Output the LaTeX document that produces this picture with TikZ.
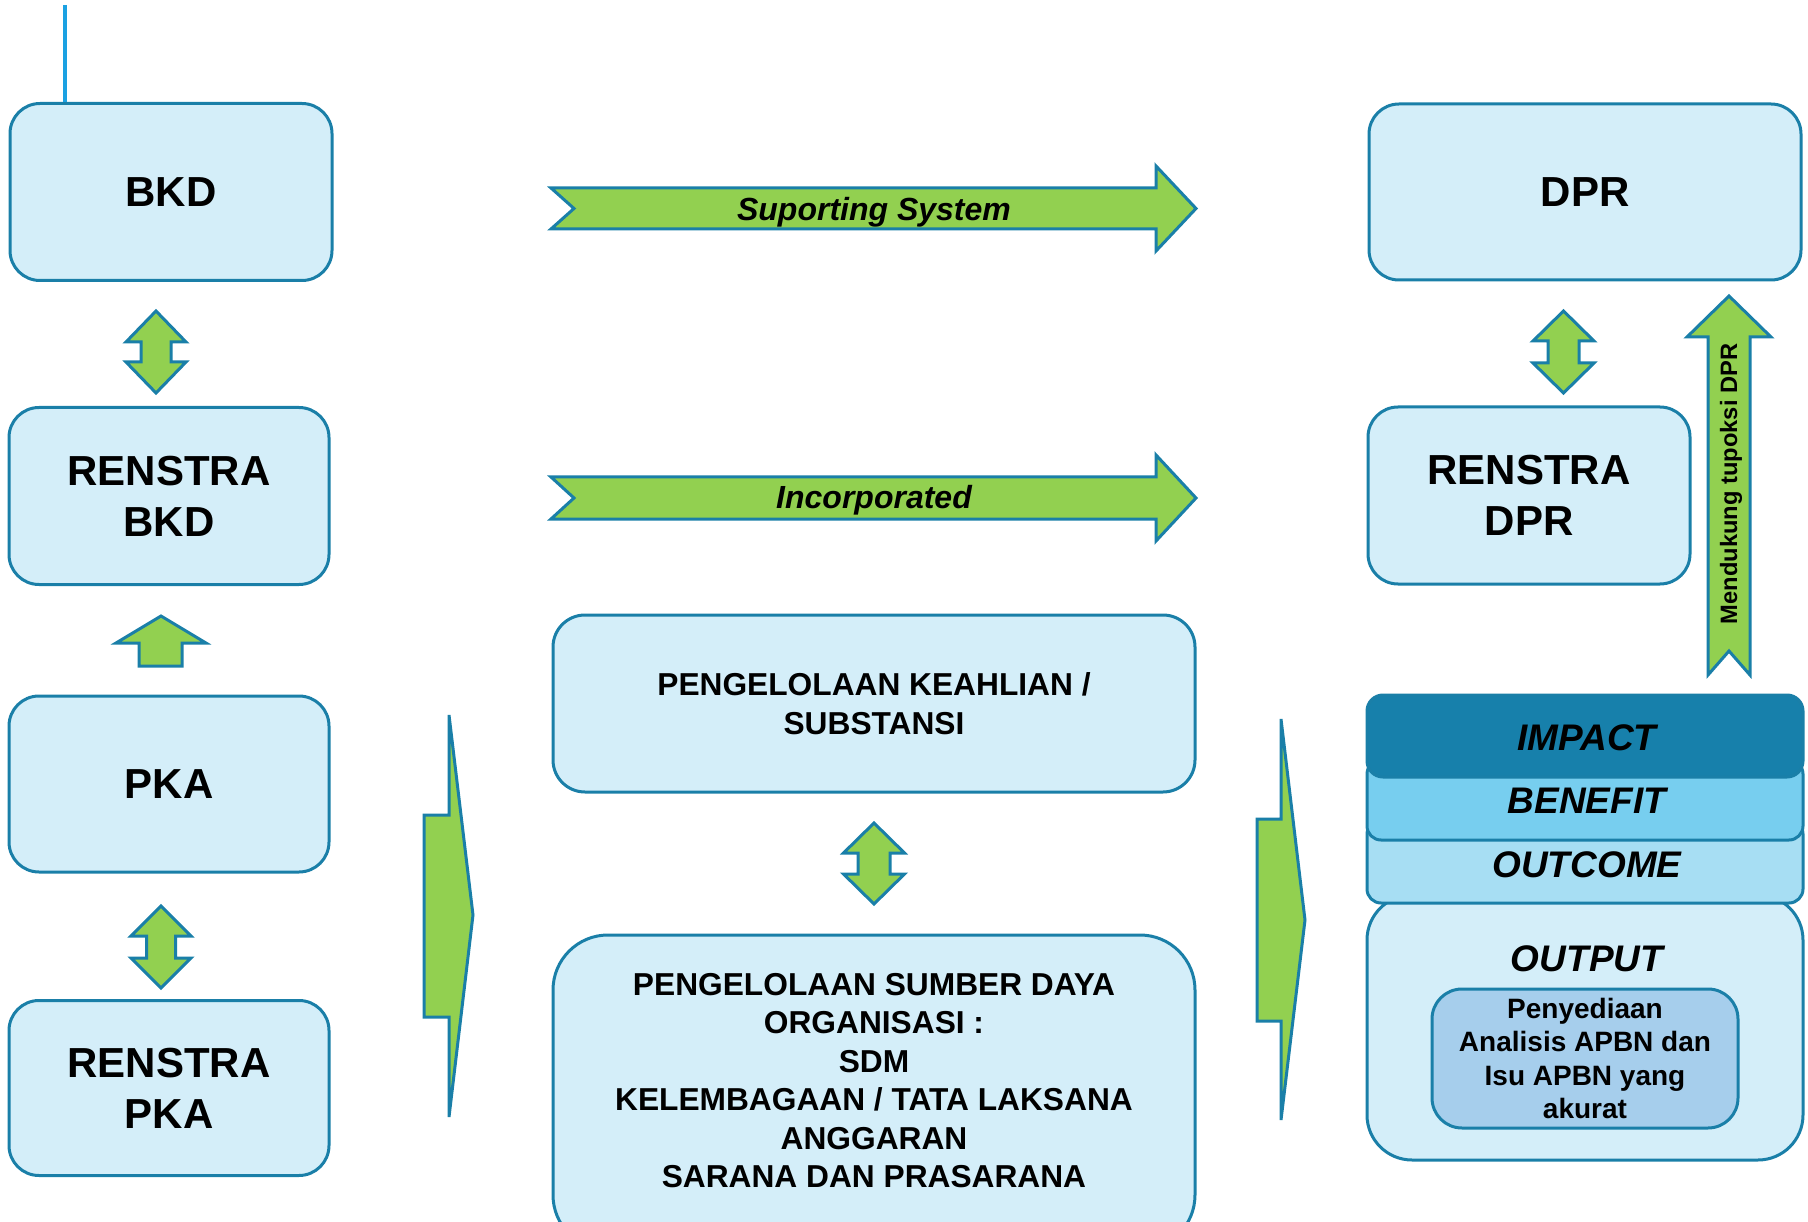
\documentclass[tikz,border=0pt]{standalone}
\usepackage{fontspec}
\setmainfont{Liberation Sans}
\definecolor{boxfill}{HTML}{D4EEF9}
\definecolor{boxline}{HTML}{1A7FA8}
\definecolor{grn}{HTML}{92D050}
\definecolor{impactc}{HTML}{1780AB}
\definecolor{benefitc}{HTML}{77CEEF}
\definecolor{outcomec}{HTML}{A7DEF3}
\definecolor{innerc}{HTML}{A6CEEC}
\definecolor{cyanline}{HTML}{1BA1E2}
\newcommand{\VDArrow}[7]{%
  \draw[greenarrow] (#1,#2) -- (#1+#6,#3) -- (#1+#7,#3) -- (#1+#7,#4) -- (#1+#6,#4) -- (#1,#5)
    -- (#1-#6,#4) -- (#1-#7,#4) -- (#1-#7,#3) -- (#1-#6,#3) -- cycle;}
\begin{document}
\begin{tikzpicture}[x=1pt,y=-1pt,
  bigbox/.style={draw=boxline, fill=boxfill, line width=3pt, rounded corners=30pt,
    inner sep=0pt, align=center, font=\fontsize{42}{51}\selectfont\bfseries},
  midbox/.style={draw=boxline, fill=boxfill, line width=3pt, rounded corners=32pt,
    inner sep=0pt, align=center, font=\fontsize{31.7}{38.5}\selectfont\bfseries},
  layer/.style={draw=boxline, line width=3pt, rounded corners=14pt, inner sep=0pt,
    minimum width=436pt},
  layertext/.style={anchor=base, inner sep=0pt, font=\fontsize{37}{40}\selectfont\bfseries\itshape},
  greenarrow/.style={draw=boxline, fill=grn, line width=3pt, line join=miter},
  arrowtext/.style={anchor=base, inner sep=0pt, font=\fontsize{32}{36}\selectfont\bfseries\itshape},
  topline/.style={draw=cyanline, line width=3.2pt}
]
\useasboundingbox (0,0) rectangle (1808,1222);
\clip (0,0) rectangle (1808,1222);

% left column
\node[bigbox, minimum width=322pt, minimum height=177pt] (bkd) at (171,192) {BKD};
\node[bigbox, minimum width=320pt, minimum height=177pt] (rbkd) at (169,496) {RENSTRA\\BKD};
\node[bigbox, minimum width=320pt, minimum height=176pt] (pka) at (169,784) {PKA};
\node[bigbox, minimum width=320pt, minimum height=175pt] (rpka) at (169,1088) {RENSTRA\\PKA};

\coordinate (linetop) at (65,5);
\draw[topline] (linetop) -- (linetop |- bkd.north);

\VDArrow{156}{311}{342}{362}{393}{30}{15}
\VDArrow{161}{906}{936}{958}{988}{30}{14.5}
\draw[greenarrow] (161,616) -- (206,643) -- (182,643) -- (182,666) -- (139,666) -- (139,643) -- (116,643) -- cycle;

% big chevrons
\draw[greenarrow] (449,715) -- (473,915) -- (449,1117) -- (449,1017) -- (424,1017) -- (424,815) -- (449,815) -- cycle;
\draw[greenarrow] (1281,719) -- (1305,920) -- (1281,1120) -- (1281,1021) -- (1257,1021) -- (1257,819) -- (1281,819) -- cycle;

% horizontal arrows
\draw[greenarrow] (551,188) -- (1156,188) -- (1156,166) -- (1196,208.5) -- (1156,251) -- (1156,229) -- (551,229) -- (574,208.5) -- cycle;
\node[arrowtext] (suptext) at (874,220.5) {Suporting System};
\draw[greenarrow] (551,477) -- (1156,477) -- (1156,455) -- (1196,498) -- (1156,541) -- (1156,519) -- (551,519) -- (574,498) -- cycle;
\node[arrowtext] (inctext) at (874,508.5) {Incorporated};

% middle column
\node[midbox, minimum width=642pt, minimum height=177pt] (keahlian) at (874,703.5) {PENGELOLAAN KEAHLIAN /\\SUBSTANSI};
\VDArrow{874}{823}{853}{874}{904}{30.5}{16}
\node[draw=boxline, fill=boxfill, line width=3pt, rounded corners=55pt, minimum width=642pt, minimum height=315pt, inner sep=0pt] (sdm) at (874,1092.5) {};
\node[inner sep=0pt, align=center, font=\fontsize{31.7}{38.5}\selectfont\bfseries] (sdmtext) at (874,1080.5)
  {PENGELOLAAN SUMBER DAYA\\ORGANISASI :\\SDM\\KELEMBAGAAN / TATA LAKSANA\\ANGGARAN\\SARANA DAN PRASARANA};

% right column
\node[bigbox, minimum width=432pt, minimum height=176pt] (dpr) at (1585,192) {DPR};
\node[bigbox, minimum width=322pt, minimum height=177pt] (rdpr) at (1529,495.5) {RENSTRA\\DPR};
\VDArrow{1563.5}{311}{341}{363}{393}{30.5}{15.5}

\draw[greenarrow] (1729,296) -- (1771,337) -- (1750,337) -- (1750,675) -- (1729,651) -- (1708,675) -- (1708,337) -- (1687,337) -- cycle;
\node[rotate=90, inner sep=0pt, font=\fontsize{23.7}{26}\selectfont\bfseries] (mendukung) at (1731,484) {Mendukung tupoksi DPR};

% result stack
\node[layer, fill=boxfill, rounded corners=45pt, minimum height=265pt] (output) at (1585,1027.5) {};
\node[layer, fill=outcomec, minimum height=83pt] (outcome) at (1585,861.5) {};
\node[layer, fill=benefitc, minimum height=80pt] (benefit) at (1585,800) {};
\node[layer, fill=impactc, rounded corners=16pt, minimum height=82pt] (impact) at (1585,736) {};
\node[layertext] (impacttext) at (1587,750) {IMPACT};
\node[layertext] (benefittext) at (1587,813) {BENEFIT};
\node[layertext] (outcometext) at (1587,877) {OUTCOME};
\node[layertext] (outputtext) at (1587,971) {OUTPUT};
\node[draw=boxline, fill=innerc, line width=3pt, rounded corners=30pt, minimum width=306pt, minimum height=139pt,
  inner sep=0pt, align=center, font=\fontsize{28}{33.3}\selectfont\bfseries] (inner) at (1585,1058.5)
  {Penyediaan\\Analisis APBN dan\\Isu APBN yang\\akurat};
\end{tikzpicture}
\end{document}
